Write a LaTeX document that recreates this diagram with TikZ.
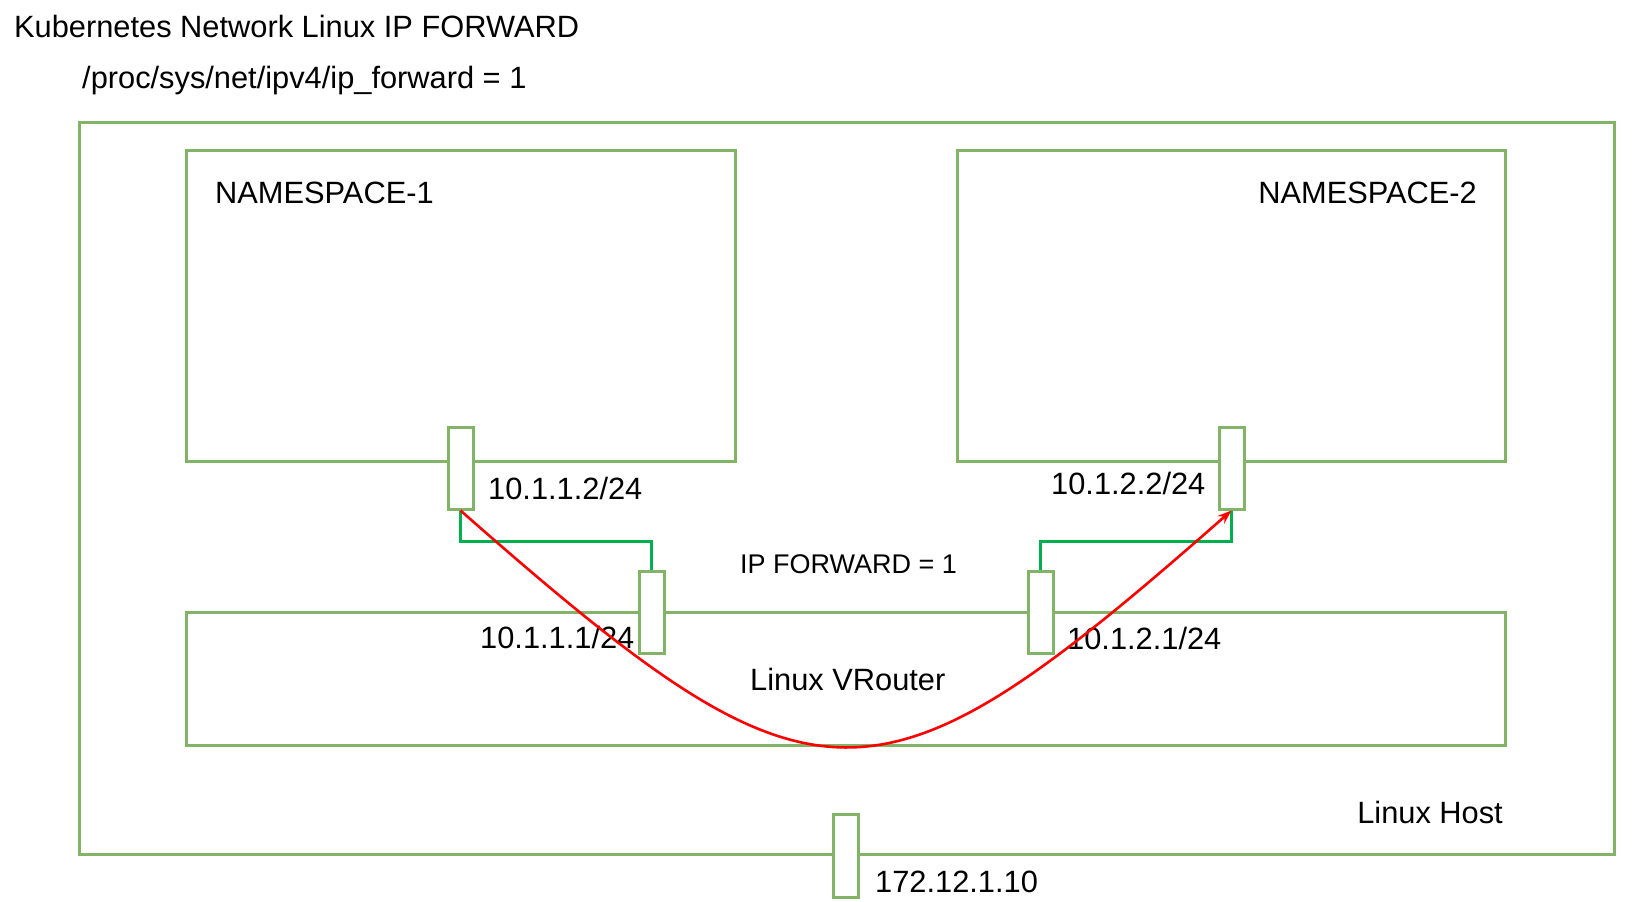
\documentclass[tikz,border=0pt]{standalone}
\usepackage{fontspec}
\setmainfont{Liberation Sans}
\usetikzlibrary{arrows.meta}
\definecolor{boxgreen}{HTML}{82B366}
\definecolor{linkgreen}{HTML}{00B050}
\tikzset{box/.style={draw=boxgreen,line width=3pt,inner sep=0pt},
    port/.style={box,fill=white,minimum width=25pt,minimum height=82pt},
    lbl/.style={inner sep=0pt,anchor=base west,font=\fontsize{30.8}{36}\selectfont},
    link/.style={draw=linkgreen,line width=3pt},
    flow/.style={draw=red,line width=2.6pt,-{Stealth[length=14pt,width=10pt]}},
    }
\begin{document}
\begin{tikzpicture}[x=1pt,y=-1pt]
	\useasboundingbox (0,0) rectangle (1633,902);
	% boxes
	\node[box,minimum width=1535pt,minimum height=732pt] (host) at (846.5,488) {};
	\node[box,minimum width=549pt,minimum height=311pt] (ns1) at (460.5,305.5) {};
	\node[box,minimum width=548pt,minimum height=311pt] (ns2) at (1231,305.5) {};
	\node[box,minimum width=1319pt,minimum height=133pt] (vr) at (845.5,678.5) {};
	% veth pairs
	\node[port] (p1) at (460.5,468) {};
	\node[port] (p2) at (1231.5,468) {};
	\node[port] (v1) at (651.5,612.5) {};
	\node[port] (v2) at (1040.5,612.5) {};
	\node[port,minimum height=83pt] (hp) at (846,855.5) {};
	\draw[link] (p1.south) -- ++(0,31) -| (v1.north);
	\draw[link] (p2.south) -- ++(0,31) -| (v2.north);
	% texts
	\node[lbl] (title) at (14,37) {Kubernetes Network Linux IP FORWARD};
	\node[lbl] (proc) at (82,88) {/proc/sys/net/ipv4/ip\_forward = 1};
	\node[lbl] (ns1name) at (215,203) {NAMESPACE-1};
	\node[lbl,anchor=base east] (ns2name) at (1477,203) {NAMESPACE-2};
	\node[lbl,font=\fontsize{27}{32}\selectfont] (fwd) at (740,573) {IP FORWARD = 1};
	\node[lbl] (vrname) at (750,690) {Linux VRouter};
	\node[lbl,anchor=base east] (hostname) at (1503,823) {Linux Host};
	\node[lbl] (ip1) at (488,499) {10.1.1.2/24};
	\node[lbl] (gw1) at (480,648) {10.1.1.1/24};
	\node[lbl] (ip2) at (1051,494) {10.1.2.2/24};
	\node[lbl] (gw2) at (1067,649) {10.1.2.1/24};
	\node[lbl] (hostip) at (875,892) {172.12.1.10};
	% packet path
	\draw[flow] (p1.south) .. controls +(358,315) and +(-358,315) .. (p2.south);
\end{tikzpicture}
\end{document}
